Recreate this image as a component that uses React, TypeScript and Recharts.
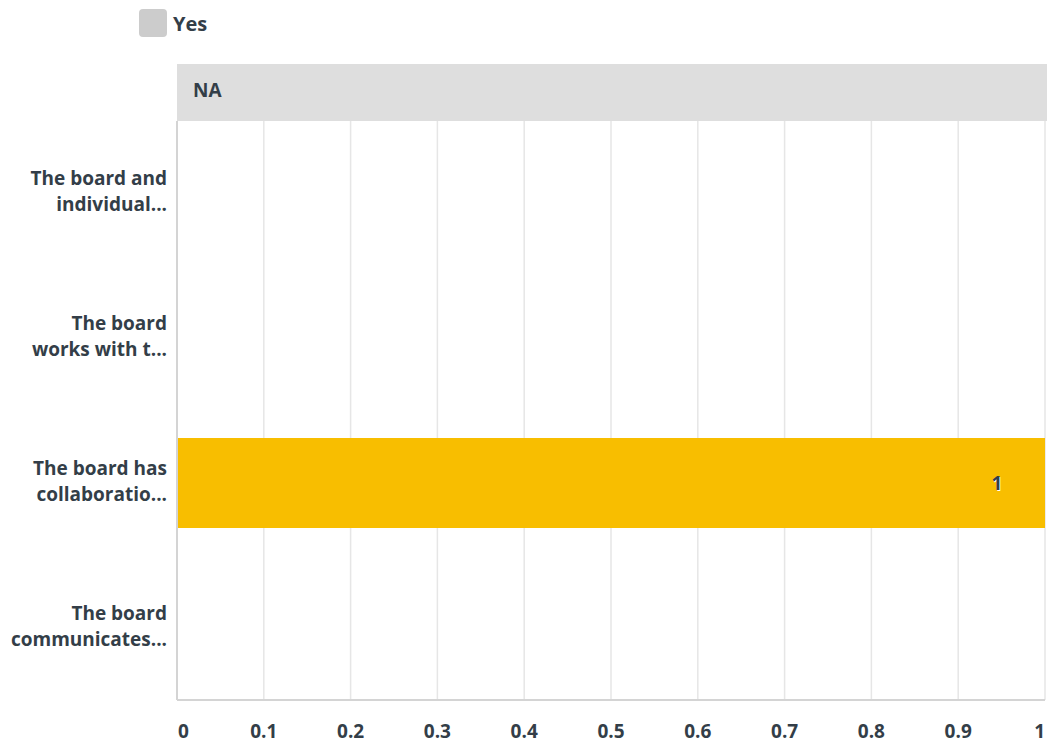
import React from 'react';
import { BarChart, Bar, XAxis, YAxis, CartesianGrid, LabelList } from 'recharts';

const categories = [
  ['The board and', 'individual...'],
  ['The board', 'works with t...'],
  ['The board has', 'collaboratio...'],
  ['The board', 'communicates...']
];
const yesValues = [0, 0, 1, 0];
const xTicks = [0, 0.1, 0.2, 0.3, 0.4, 0.5, 0.6, 0.7, 0.8, 0.9, 1];
const seriesName = 'Yes';
const panelTitle = 'NA';

const data = categories.map((lines, i) => ({
  name: lines.join(' '),
  lines,
  yes: yesValues[i]
}));

const FONT = '"Open Sans", Roboto, sans-serif';
const TEXT = '#333e48';

const YTick = (props: any) => {
  const { x, y, index } = props;
  const lines: string[] = categories[index] || [];
  return (
    <text x={x} y={y} textAnchor="end" fill={TEXT} fontFamily={FONT} fontSize={19} fontWeight={700}>
      {lines.map((l, i) => (
        <tspan key={i} x={x} dy={i === 0 ? -8 : 26}>{l}</tspan>
      ))}
    </text>
  );
};

const XTick = (props: any) => {
  const { x, y, payload, index } = props;
  const last = index === xTicks.length - 1;
  const anchor = index === 0 ? 'start' : last ? 'end' : 'middle';
  return (
    <text x={x + (index === 0 ? 1 : 0)} y={y + 38} textAnchor={anchor} fill={TEXT} fontFamily={FONT} fontSize={19} fontWeight={700}>
      {payload.value}
    </text>
  );
};

const BarValue = (props: any) => {
  const { x, y, width, height, value } = props;
  if (!value) return null;
  const tx = x + width - 48;
  const ty = y + height / 2 + 7;
  return (
    <g fontFamily={FONT} fontSize={19} fontWeight={700}>
      <text x={tx + 1} y={ty + 1} textAnchor="middle" fill="#ffffff">{value}</text>
      <text x={tx} y={ty} textAnchor="middle" fill={TEXT}>{value}</text>
    </g>
  );
};

export default function App() {
  return (
    <div style={{ position: 'absolute', left: 0, top: 0, width: 1047, height: 743, background: '#fff' }}>
      <div style={{ position: 'absolute', left: 139, top: 9, display: 'flex', alignItems: 'center', fontFamily: FONT, fontWeight: 700, fontSize: 20, color: TEXT }}>
        <span style={{ display: 'inline-block', width: 28, height: 28, borderRadius: 4, background: '#cccccc', marginRight: 6 }} />
        <span>{seriesName}</span>
      </div>
      <div style={{ position: 'absolute', left: 177, top: 64, width: 870, height: 57, background: '#dedede', fontFamily: FONT, fontWeight: 700, fontSize: 19, color: TEXT, display: 'flex', alignItems: 'center', paddingLeft: 16, paddingBottom: 5, boxSizing: 'border-box' }}>
        {panelTitle}
      </div>
      <BarChart
        width={1047}
        height={743}
        data={data}
        layout="vertical"
        margin={{ top: 121, right: 2, left: 0, bottom: 0 }}
        barCategoryGap="19%"
      >
        <CartesianGrid horizontal={false} stroke="#e6e6e6" strokeWidth={1.5} />
        <XAxis
          type="number"
          domain={[0, 1]}
          ticks={xTicks}
          tick={<XTick />}
          tickLine={false}
          tickSize={0}
          tickMargin={0}
          axisLine={{ stroke: '#d4d4d4', strokeWidth: 2 }}
          interval={0}
          height={43}
        />
        <YAxis
          type="category"
          dataKey="name"
          width={177}
          tick={<YTick />}
          tickLine={false}
          tickSize={0}
          tickMargin={10}
          axisLine={{ stroke: '#d4d4d4', strokeWidth: 2 }}
          interval={0}
        />
        <Bar dataKey="yes" name={seriesName} fill="#f8be00" isAnimationActive={false}>
          <LabelList dataKey="yes" content={<BarValue />} />
        </Bar>
      </BarChart>
    </div>
  );
}
